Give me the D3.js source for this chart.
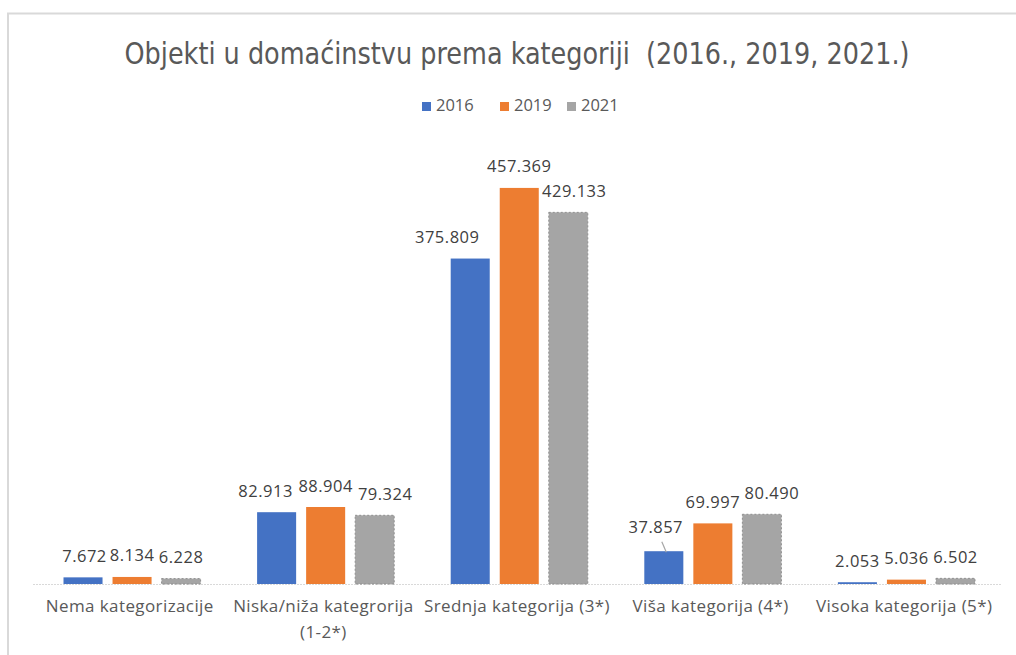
<!DOCTYPE html>
<html><head><meta charset="utf-8">
<script src="https://cdn.jsdelivr.net/npm/d3@7"></script>
<style>
html,body{margin:0;padding:0;background:#fff;}
svg{display:block;}
</style></head>
<body>
<svg id="chart" width="1016" height="655"></svg>
<script>
const categories = ["Nema kategorizacije", "Niska/niža kategrorija (1-2*)", "Srednja kategorija (3*)", "Viša kategorija (4*)", "Visoka kategorija (5*)"];
const categoryLines = [["Nema kategorizacije"], ["Niska/niža kategrorija", "(1-2*)"], ["Srednja kategorija (3*)"], ["Viša kategorija (4*)"], ["Visoka kategorija (5*)"]];
const seriesNames = ["2016", "2019", "2021"];
const values2016 = [7.672, 82.913, 375.809, 37.857, 2.053];
const values2019 = [8.134, 88.904, 457.369, 69.997, 5.036];
const values2021 = [6.228, 79.324, 429.133, 80.490, 6.502];
const labelTexts2016 = ["7.672", "82.913", "375.809", "37.857", "2.053"];
const labelTexts2019 = ["8.134", "88.904", "457.369", "69.997", "5.036"];
const labelTexts2021 = ["6.228", "79.324", "429.133", "80.490", "6.502"];
const titleText = "Objekti u domaćinstvu prema kategoriji  (2016., 2019, 2021.)";

const colors = ["#4472C4", "#ED7D31", "#A5A5A5"];
// label nudges (Excel de-overlap), in px: [dx, dy] per category/series
const labelNudge = [
  [[1.5,0],[0,0],[0,0]],
  [[-11,0],[0,0],[10.5,0]],
  [[-23,0],[0,0],[6,0]],
  [[-8,-3],[0,0],[10,0]],
  [[0,0],[0,0],[0,0]]
];
const leaderLine = [false,false,false,true,false];

const series = [values2016, values2019, values2021];
const labelTexts = [labelTexts2016, labelTexts2019, labelTexts2021];

const svg = d3.select("#chart");
const font = "'Open Sans', sans-serif";

// chart frame
svg.append("rect").attr("x", 8).attr("y", 13.5).attr("width", 1030).attr("height", 700)
  .attr("fill", "#fff").attr("stroke", "#d9d9d9").attr("stroke-width", 2);

// title
svg.append("text").attr("x", 517).attr("y", 64).attr("text-anchor", "middle")
  .attr("font-family", "'Liberation Sans Narrow','DejaVu Sans Condensed','Open Sans',sans-serif")
  .attr("font-size", 31).attr("fill", "#595959")
  .style("white-space", "pre").attr("xml:space", "preserve")
  .attr("textLength", 785).attr("lengthAdjust", "spacingAndGlyphs")
  .text(titleText);

// legend
const legendX = [422, 500, 567];
const legend = svg.append("g");
seriesNames.forEach((n, i) => {
  legend.append("rect").attr("x", legendX[i]).attr("y", 102).attr("width", 9).attr("height", 9).attr("fill", colors[i]);
  legend.append("text").attr("x", legendX[i] + 14).attr("y", 111).attr("font-family", font)
    .attr("font-size", 16.5).attr("fill", "#595959").text(n);
});

// scales
const x0 = d3.scaleBand().domain(categories).range([33, 1001]).paddingInner(0).paddingOuter(0);
const step = x0.bandwidth();
const x1 = d3.scaleBand().domain(seriesNames).range([30.5, step - 26]).paddingInner(0.204).paddingOuter(0);
const y = d3.scaleLinear().domain([0, 500]).range([584, 151]);

// baseline axis
svg.append("line").attr("x1", 33).attr("x2", 1001).attr("y1", y(0) + 0.5).attr("y2", y(0) + 0.5)
  .attr("stroke", "#d9d9d9").attr("stroke-width", 1.2).attr("stroke-dasharray", "2,1");

// bars
categories.forEach((c, ci) => {
  const g = svg.append("g").attr("transform", `translate(${x0(c)},0)`);
  seriesNames.forEach((s, si) => {
    const v = series[si][ci];
    const r = g.append("rect").attr("x", x1(s)).attr("y", y(v)).attr("width", x1.bandwidth())
      .attr("height", y(0) - y(v)).attr("fill", colors[si]);
    if (si === 2) r.attr("stroke", "#8f8f8f").attr("stroke-width", 1).attr("stroke-dasharray", "2,2");
    const cx = x1(s) + x1.bandwidth() / 2;
    const nd = labelNudge[ci][si];
    const lx = cx + nd[0], ly = y(v) - 15.5 + nd[1];
    if (si === 0 && leaderLine[ci]) {
      g.append("line").attr("x1", cx - 2).attr("y1", ly + 9).attr("x2", cx + 2.5).attr("y2", y(v) + 1)
        .attr("stroke", "#a6a6a6").attr("stroke-width", 1.2);
    }
    g.append("text").attr("x", lx).attr("y", ly).attr("text-anchor", "middle")
      .attr("font-family", font).attr("font-size", 16.5).attr("fill", "#404040")
      .attr("letter-spacing", 0.5)
      .text(labelTexts[si][ci]);
  });
});

// category labels
categories.forEach((c, ci) => {
  const t = svg.append("text").attr("text-anchor", "middle").attr("font-family", font)
    .attr("font-size", 17).attr("fill", "#595959").attr("letter-spacing", 0.4);
  categoryLines[ci].forEach((line, li) => {
    t.append("tspan").attr("x", x0(c) + step / 2).attr("y", 612 + li * 26).text(line);
  });
});
</script>
</body></html>
